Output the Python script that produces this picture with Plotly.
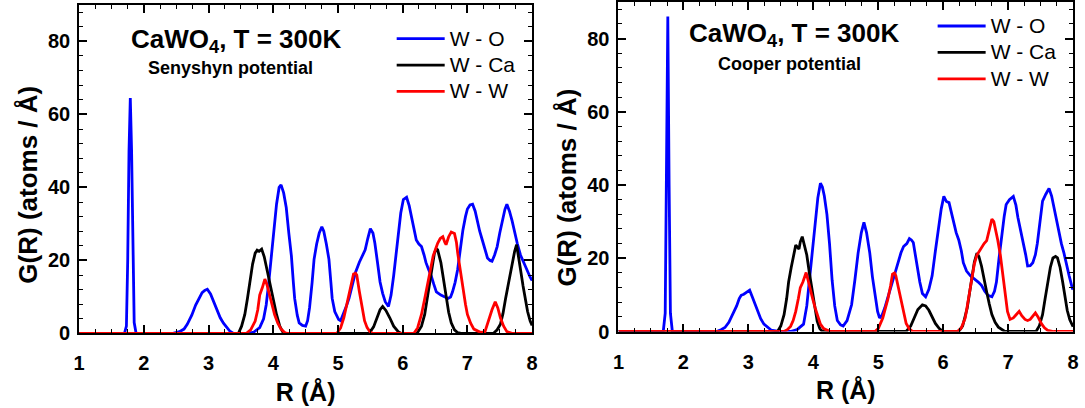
import plotly.graph_objects as go

# ---------------- data ----------------
# Left panel: Senyshyn potential
r_wo_sen = [1.0, 1.70, 1.73, 1.75, 1.77, 1.79, 1.81, 1.83, 1.85, 1.88,
            2.45, 2.55, 2.62, 2.67, 2.74, 2.80, 2.86, 2.90, 2.94, 2.98, 3.03, 3.08, 3.13, 3.18, 3.23, 3.28, 3.33, 3.38,
            3.62, 3.70, 3.79, 3.85, 3.89, 3.93, 3.97, 4.01, 4.05, 4.09, 4.12, 4.16, 4.20, 4.24, 4.28, 4.31, 4.33, 4.37,
            4.40, 4.45, 4.50, 4.53, 4.56, 4.60, 4.63, 4.67, 4.71, 4.75, 4.78, 4.82, 4.86, 4.89, 4.91, 4.95, 5.01, 5.04,
            5.09, 5.13, 5.17, 5.22, 5.27, 5.33, 5.38, 5.42, 5.46, 5.50, 5.54, 5.57, 5.61, 5.65, 5.69, 5.73, 5.78, 5.82,
            5.86, 5.90, 5.93, 5.97, 6.01, 6.06, 6.10, 6.14, 6.18, 6.21, 6.25, 6.29, 6.33, 6.36, 6.40, 6.44, 6.48, 6.52,
            6.59, 6.65, 6.70, 6.74, 6.77, 6.81, 6.85, 6.89, 6.93, 6.97, 7.00, 7.04, 7.08, 7.12, 7.15, 7.19, 7.23, 7.27,
            7.31, 7.35, 7.38, 7.42, 7.46, 7.50, 7.54, 7.58, 7.61, 7.65, 7.69, 7.73, 7.77, 7.82, 7.87, 7.92, 7.97, 8.0]
g_wo_sen = [0, 0, 2, 20, 50, 64.5, 50, 20, 3, 0,
            0, 0.5, 1.2, 2.5, 5, 7.8, 10, 11.2, 11.8, 12.1, 10.8, 8.7, 6.3, 4.3, 2.8, 1.6, 0.6, 0.1,
            0, 0.4, 1.6, 4, 7.8, 14, 21.2, 28.5, 35.4, 40, 40.7, 38.5, 34.5, 27.5, 21.2, 14, 9.6, 5,
            2.9, 2.2, 2.0, 3.5, 7, 14, 20.3, 24.5, 27.5, 29.2, 28, 24.5, 20.3, 14, 9.6, 6, 3.8, 3.5,
            5.5, 7.5, 9.6, 13, 16.7, 19.5, 21.5, 22.9, 26, 28.7, 27.5, 24.7, 19.5, 14.1, 11, 8.7, 7.4, 10.5,
            15.8, 22, 28.3, 33, 36.7, 37.3, 35, 31.8, 28.5, 25.6, 24.5, 23.8, 21.5, 19.4, 17.5, 15.8, 13.5, 11.4,
            10.5, 10, 9.6, 10, 11.4, 14, 17.6, 23, 28.3, 32, 34.1, 35.2, 35.4, 33.5, 30.9, 28, 25.6, 23,
            20.7, 20, 19.8, 21.5, 23.8, 27.5, 30.9, 34, 35.4, 33.5, 30.9, 27.5, 24.7, 21.5, 19.4, 17.2, 15.4, 14.5]

r_wca_sen = [1.0, 3.46, 3.51, 3.56, 3.60, 3.64, 3.68, 3.72, 3.75, 3.78, 3.82, 3.86, 3.89, 3.93, 3.97, 4.01, 4.05,
             4.10, 4.15, 4.20,
             5.48, 5.55, 5.60, 5.65, 5.69, 5.74, 5.80, 5.86, 5.93, 5.98,
             6.22, 6.29, 6.34, 6.38, 6.42, 6.46, 6.49, 6.52, 6.54, 6.59, 6.63, 6.67, 6.71, 6.75, 6.80, 6.85, 6.90,
             7.40, 7.46, 7.51, 7.55, 7.59, 7.63, 7.66, 7.70, 7.73, 7.76, 7.79, 7.82, 7.86, 7.89, 7.93, 7.97, 8.0]
g_wca_sen = [0, 0, 2, 5.2, 9.5, 14.9, 19, 22, 22.8, 22.5, 23.1, 21, 18.5, 15.5, 12.3, 8.5, 5.2,
             2, 0.3, 0,
             0, 1.8, 4.3, 6.5, 7.4, 6.3, 4.3, 2, 0.5, 0,
             0, 2, 5.2, 9.5, 14.1, 18.5, 22, 23.2, 22.9, 19.4, 14.5, 9.6, 5.8, 2.9, 1, 0.2, 0,
             0, 1, 2.5, 5.5, 9.6, 13.5, 16.7, 20, 22.5, 24.3, 21.5, 17.6, 13, 9.6, 6, 3.4, 2.2]

r_ww_sen = [1.0, 3.58, 3.65, 3.72, 3.76, 3.79, 3.83, 3.87, 3.90, 3.94, 3.98, 4.02, 4.07, 4.12, 4.18, 4.22,
            4.98, 5.04, 5.09, 5.13, 5.17, 5.21, 5.24, 5.27, 5.29, 5.33, 5.37, 5.41, 5.45, 5.50, 5.55,
            6.17, 6.23, 6.29, 6.34, 6.39, 6.43, 6.47, 6.51, 6.54, 6.58, 6.62, 6.65, 6.67, 6.71, 6.75, 6.80, 6.83,
            6.85, 6.89, 6.93, 6.97, 7.00, 7.05, 7.10, 7.20, 7.27, 7.33, 7.38, 7.43, 7.47, 7.51, 7.56, 7.61, 7.70, 8.0]
g_ww_sen = [0, 0, 1, 3.4, 6.5, 10.5, 12.5, 14.9, 13.5, 10.5, 7.5, 5.2, 2.8, 1.2, 0.2, 0,
            0, 1.5, 4.3, 7.5, 11.4, 14.5, 16.3, 16.5, 16, 11.5, 6.9, 3.5, 1.6, 0.3, 0,
            0, 1.5, 5.2, 9.5, 14.1, 18, 21.2, 23.2, 24.7, 26, 26.5, 25, 24.3, 26.5, 27.8, 27.4, 25,
            22, 17, 12.3, 8, 5.2, 2.8, 1.2, 0.3, 0.4, 3.8, 6.5, 8.7, 7, 4.3, 2, 0.5, 0, 0]

# Right panel: Cooper potential
r_wo_coo = [1.0, 1.69, 1.72, 1.74, 1.76, 1.78, 1.80, 1.83,
            2.51, 2.58, 2.64, 2.70, 2.76, 2.82, 2.86, 2.89, 2.93, 2.97, 3.02, 3.06, 3.10, 3.14, 3.19, 3.24, 3.30,
            3.35, 3.49,
            3.65, 3.75, 3.85, 3.90, 3.95, 3.99, 4.03, 4.07, 4.11, 4.14, 4.17, 4.21, 4.25, 4.29, 4.33, 4.37, 4.42,
            4.46, 4.52, 4.59, 4.64, 4.69, 4.74, 4.78, 4.82, 4.87, 4.91, 4.95, 4.99, 5.02, 5.06, 5.10, 5.16, 5.22,
            5.26, 5.30, 5.35, 5.39, 5.44, 5.48, 5.51, 5.54, 5.57, 5.60, 5.64, 5.68, 5.73, 5.78, 5.83, 5.88, 5.93,
            5.97, 6.01, 6.05, 6.09, 6.13, 6.16, 6.20, 6.24, 6.28, 6.31, 6.36, 6.42, 6.49, 6.54, 6.59, 6.64, 6.69,
            6.75, 6.79, 6.82, 6.86, 6.90, 6.94, 6.97, 7.02, 7.08, 7.12, 7.15, 7.19, 7.23, 7.27, 7.30, 7.34, 7.38,
            7.42, 7.45, 7.49, 7.53, 7.58, 7.63, 7.67, 7.71, 7.75, 7.78, 7.82, 7.86, 7.90, 7.94, 7.99, 8.0]
g_wo_coo = [0, 0, 5, 40, 86, 40, 5, 0,
            0, 0.5, 1.1, 2.5, 4.6, 7, 9, 9.9, 10.2, 10.8, 11.3, 9.5, 7.5, 5.5, 3.5, 2.0, 1,
            0.4, 0,
            0, 0.5, 2, 7, 16.1, 24, 31.2, 36.5, 40.5, 39.5, 37, 32, 24, 14, 7, 3, 1.8,
            1.5, 3, 7.3, 14, 21.4, 27, 29.8, 27, 21.4, 15, 9.9, 5.5, 3.7, 4.5, 6.4, 10, 13.5,
            16, 18.8, 21.5, 23.2, 24, 25.4, 25, 24.3, 21, 17, 13.5, 10.4, 9.5, 11.5, 15.2, 22, 28.5,
            33.5, 36.9, 35.5, 35.2, 32, 29.4, 27, 25, 22, 18.8, 16.5, 15.2, 14.3, 13.5, 12.6, 11, 9.9,
            9.5, 11, 13.5, 20, 26.7, 31.5, 34.7, 36, 36.9, 34.5, 31.2, 28, 25, 21, 17.9, 18, 18.8,
            21, 24.1, 30, 35.6, 37.5, 39.1, 37, 33.6, 30, 26.7, 24, 21.4, 18, 15.2, 11.7, 11.5]

r_wca_coo = [1.0, 3.45, 3.50, 3.55, 3.59, 3.62, 3.66, 3.70, 3.73, 3.78, 3.80, 3.83, 3.86, 3.90, 3.94, 3.98,
             4.02, 4.06, 4.10, 4.13, 4.18,
             5.43, 5.50, 5.55, 5.61, 5.68, 5.73, 5.78, 5.83, 5.88, 5.94, 6.00,
             6.24, 6.30, 6.37, 6.41, 6.44, 6.48, 6.52, 6.55, 6.59, 6.63, 6.67, 6.71, 6.75, 6.80, 6.85, 6.95,
             7.43, 7.48, 7.53, 7.57, 7.61, 7.65, 7.69, 7.73, 7.76, 7.80, 7.84, 7.88, 7.91, 7.95, 7.99, 8.0]
g_wca_coo = [0, 0, 1.5, 4.6, 9, 13.5, 17.5, 21.5, 23.6, 22.5, 24.5, 25.9, 24, 20.9, 16, 11.6,
             6.5, 2.8, 0.8, 0.2, 0,
             0, 1.5, 3.7, 6, 7.3, 7, 5.8, 3.8, 2.2, 0.8, 0,
             0, 1.5, 6.4, 11, 15.2, 19, 21.4, 20.5, 17.9, 14, 10.8, 7.5, 4.6, 2.5, 1.2, 0,
             0, 1.5, 4.6, 9, 13.5, 17.5, 20.1, 20.5, 20.1, 17.5, 13.5, 9.5, 5.8, 3.2, 1.5, 1.3]

r_ww_coo = [1.0, 3.55, 3.60, 3.65, 3.69, 3.73, 3.77, 3.80, 3.84, 3.87, 3.89, 3.92, 3.95, 3.99, 4.03, 4.07,
            4.11, 4.16, 4.21, 4.26,
            4.95, 5.00, 5.07, 5.11, 5.15, 5.19, 5.22, 5.25, 5.27, 5.31, 5.35, 5.39, 5.43, 5.48, 5.53,
            6.22, 6.28, 6.34, 6.39, 6.44, 6.48, 6.52, 6.56, 6.59, 6.63, 6.67, 6.71, 6.75, 6.78, 6.80, 6.84,
            6.88, 6.92, 6.95, 6.99, 7.03, 7.08, 7.12, 7.17, 7.21, 7.26, 7.30, 7.34, 7.38, 7.42, 7.46, 7.51,
            7.56, 7.61, 7.70, 8.0]
g_ww_coo = [0, 0, 0.5, 1.4, 3, 5.5, 9, 12, 13.5, 15, 16.1, 14, 11.6, 9, 6.4, 4,
            2, 0.8, 0.3, 0,
            0, 0.8, 3.7, 6, 9, 12.5, 15.7, 16, 15.3, 12, 8.6, 5, 2.2, 0.7, 0,
            0, 1, 3.7, 9, 15.2, 18.5, 20.9, 22, 23.2, 24, 24.8, 28, 30.7, 30, 28.5, 25,
            20.9, 15, 9.9, 5.5, 3.3, 3.7, 4.5, 5.5, 4.3, 3.3, 3, 3.3, 4.2, 5.1, 4, 2.2,
            1, 0.3, 0, 0]

series_names = ["W - O", "W - Ca", "W - W"]
series_colors = ["#0000FF", "#000000", "#FF0000"]
panel_titles = ["CaWO<sub>4</sub>, T = 300K", "CaWO<sub>4</sub>, T = 300K"]
panel_subtitles = ["Senyshyn potential", "Cooper potential"]
x_ticks = [1, 2, 3, 4, 5, 6, 7, 8]
y_ticks = [0, 20, 40, 60, 80]

left_data = [(r_wo_sen, g_wo_sen), (r_wca_sen, g_wca_sen), (r_ww_sen, g_ww_sen)]
right_data = [(r_wo_coo, g_wo_coo), (r_wca_coo, g_wca_coo), (r_ww_coo, g_ww_coo)]

# ---------------- figure ----------------
W, H = 1085, 408
FONT = "Arial, 'Liberation Sans', Helvetica, sans-serif"

fig = go.Figure()

for (rx, gy), name, col in zip(left_data, series_names, series_colors):
    fig.add_trace(go.Scatter(x=rx, y=gy, mode="lines", name=f'<span style="font-size:21px">{name}</span>',
                             line=dict(color=col, width=2.8), xaxis="x", yaxis="y", legend="legend"))
for (rx, gy), name, col in zip(right_data, series_names, series_colors):
    fig.add_trace(go.Scatter(x=rx, y=gy, mode="lines", name=f'<span style="font-size:21px">{name}</span>',
                             line=dict(color=col, width=2.8), xaxis="x2", yaxis="y2", legend="legend2"))

def px2x(p):
    return p / W

def py2y(p):
    return 1 - p / H

axis_common = dict(
    showline=True, linewidth=2, linecolor="black", mirror="ticks",
    ticks="inside", ticklen=8, tickwidth=1.5, tickcolor="black",
    showgrid=False, zeroline=False,
    tickfont=dict(family=FONT, size=20, color="black", weight="bold"),
)
xaxis_common = dict(axis_common, range=[1, 8], tickvals=x_ticks, ticklabelstandoff=11,
                    minor=dict(dtick=0.25, ticks="inside", ticklen=4, tickwidth=1.2, tickcolor="black"),
                    title=dict(text="<b>R (Å)</b>", font=dict(family=FONT, size=25, color="black"), standoff=10))
yaxis_common = dict(axis_common, range=[0, 90], tickvals=y_ticks, ticklabelstandoff=3,
                    minor=dict(dtick=4, ticks="inside", ticklen=4, tickwidth=1.2, tickcolor="black"))

fig.update_layout(
    width=W, height=H,
    margin=dict(l=0, r=0, t=0, b=0),
    paper_bgcolor="white", plot_bgcolor="white",
    font=dict(family=FONT, color="black"),
    xaxis=dict(xaxis_common, domain=[px2x(74), px2x(532)], anchor="y"),
    yaxis=dict(yaxis_common, domain=[py2y(342.7), py2y(5)], anchor="x"),
    xaxis2=dict(xaxis_common, domain=[px2x(619.3), px2x(1079)], anchor="y2"),
    yaxis2=dict(yaxis_common, domain=[py2y(340.7), py2y(2)], anchor="x2"),
    legend=dict(x=px2x(390), y=py2y(21), xanchor="left", yanchor="top",
                bgcolor="rgba(0,0,0,0)", font=dict(family=FONT, size=18, color="black"),
                itemwidth=48, tracegroupgap=0),
    legend2=dict(x=px2x(937), y=py2y(8), xanchor="left", yanchor="top",
                 bgcolor="rgba(0,0,0,0)", font=dict(family=FONT, size=18, color="black"),
                 itemwidth=48, tracegroupgap=0),
    showlegend=True,
)

annos = []
title_pos = [(233, 42), (797, 35)]
sub_pos = [(227, 70), (792, 66)]
ytitle_pos = [(22, 190), (567, 193)]
for i in range(2):
    annos.append(dict(text=f"<b>{panel_titles[i]}</b>", x=px2x(title_pos[i][0]), y=py2y(title_pos[i][1]),
                      xref="paper", yref="paper", xanchor="center", yanchor="middle", showarrow=False,
                      font=dict(family=FONT, size=26, color="black")))
    annos.append(dict(text=f"<b>{panel_subtitles[i]}</b>", x=px2x(sub_pos[i][0]), y=py2y(sub_pos[i][1]),
                      xref="paper", yref="paper", xanchor="center", yanchor="middle", showarrow=False,
                      font=dict(family=FONT, size=18, color="black")))
    annos.append(dict(text="<b>G(R) (atoms / Å)</b>", x=px2x(ytitle_pos[i][0]), y=py2y(ytitle_pos[i][1]),
                      xref="paper", yref="paper", xanchor="center", yanchor="middle", showarrow=False,
                      textangle=-90, font=dict(family=FONT, size=26, color="black")))
fig.update_layout(annotations=annos)

fig.write_html("out.html")
